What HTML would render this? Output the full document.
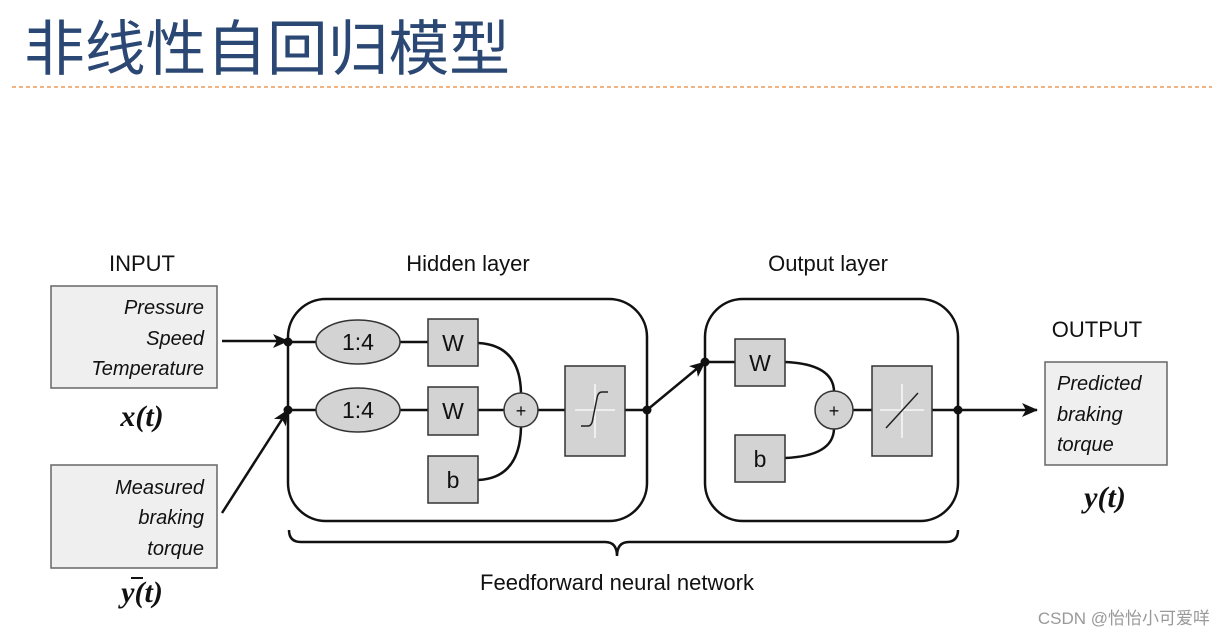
<!DOCTYPE html>
<html><head><meta charset="utf-8"><style>
html,body{margin:0;padding:0;background:#fff;width:1224px;height:637px;overflow:hidden}
svg{display:block}
text{font-family:"Liberation Sans","DejaVu Sans",sans-serif}
text.cjk{font-family:"Liberation Sans","Noto Sans CJK SC",sans-serif}
text.ser{font-family:"Liberation Serif","DejaVu Serif",serif}
</style></head><body>
<svg width="1224" height="637" viewBox="0 0 1224 637" xmlns="http://www.w3.org/2000/svg">
<defs><marker id="ar" markerWidth="16" markerHeight="14" refX="15" refY="7" orient="auto" markerUnits="userSpaceOnUse"><path d="M0,0 L16,7 L0,14 L4,7 z" fill="#111"/></marker></defs>
<text class="cjk" x="24" y="70" font-size="60" fill="#2b4773" textLength="486" lengthAdjust="spacingAndGlyphs">非线性自回归模型</text>
<line x1="12" y1="87" x2="1212" y2="87" stroke="#e8873a" stroke-width="1.3" stroke-dasharray="4,3"/>
<g font-size="22" fill="#111" text-anchor="middle">
<text x="142" y="271">INPUT</text>
<text x="468" y="271">Hidden layer</text>
<text x="828" y="271">Output layer</text>
<text x="1097" y="337">OUTPUT</text>
<text x="617" y="590">Feedforward neural network</text>
</g>
<g fill="#efefef" stroke="#666" stroke-width="1.5">
<rect x="51" y="286" width="166" height="102"/>
<rect x="51" y="465" width="166" height="103"/>
<rect x="1045" y="362" width="122" height="103"/>
</g>
<g font-size="20" font-style="italic" fill="#111" text-anchor="end">
<text x="204" y="314">Pressure</text><text x="204" y="345">Speed</text><text x="204" y="375">Temperature</text>
<text x="204" y="494">Measured</text><text x="204" y="524">braking</text><text x="204" y="555">torque</text>
</g>
<g font-size="20" font-style="italic" fill="#111">
<text x="1057" y="390">Predicted</text><text x="1057" y="421">braking</text><text x="1057" y="451">torque</text>
</g>
<g font-size="30" font-weight="bold" font-style="italic" fill="#111" text-anchor="middle">
<text class="ser" x="142" y="426">x(t)</text>
<text class="ser" x="142" y="602">y(t)</text>
<text class="ser" x="1105" y="507">y(t)</text>
</g>
<line x1="131" y1="578" x2="143" y2="578" stroke="#111" stroke-width="2"/>
<g fill="none" stroke="#111" stroke-width="2.5">
<rect x="288" y="299" width="359" height="222" rx="38"/>
<rect x="705" y="299" width="253" height="222" rx="38"/>
<line x1="222" y1="341" x2="288" y2="341" marker-end="url(#ar)"/>
<line x1="222" y1="513" x2="288" y2="410" marker-end="url(#ar)"/>
<line x1="288" y1="342" x2="428" y2="342"/>
<line x1="288" y1="410" x2="428" y2="410"/>
<line x1="478" y1="410" x2="565" y2="410"/>
<path d="M478,343 Q520,345 521,393"/>
<path d="M478,480 Q520,478 521,427"/>
<line x1="625" y1="410" x2="647" y2="410"/>
<line x1="647" y1="410" x2="705" y2="362" marker-end="url(#ar)"/>
<line x1="705" y1="362" x2="735" y2="362"/>
<path d="M785,362 Q833,364 834,391"/>
<path d="M785,458 Q833,456 834,429"/>
<line x1="853" y1="410" x2="872" y2="410"/>
<line x1="932" y1="410" x2="958" y2="410"/>
<line x1="958" y1="410" x2="1037" y2="410" marker-end="url(#ar)"/>
<path d="M289,530 Q289,542 301,542 L605,542 Q617,542 617,556 Q617,542 629,542 L946,542 Q958,542 958,530"/>
</g>
<g fill="#d3d3d3" stroke="#333" stroke-width="1.5">
<ellipse cx="358" cy="342" rx="42" ry="22"/>
<ellipse cx="358" cy="410" rx="42" ry="22"/>
<rect x="428" y="319" width="50" height="47"/>
<rect x="428" y="387" width="50" height="48"/>
<rect x="428" y="456" width="50" height="47"/>
<circle cx="521" cy="410" r="17"/>
<rect x="565" y="366" width="60" height="90"/>
<rect x="735" y="339" width="50" height="47"/>
<rect x="735" y="435" width="50" height="47"/>
<circle cx="834" cy="410" r="19"/>
<rect x="872" y="366" width="60" height="90"/>
</g>
<g stroke="#fff" stroke-width="1.3" fill="none">
<line x1="595" y1="384" x2="595" y2="438"/><line x1="575" y1="410" x2="615" y2="410"/>
<line x1="902" y1="384" x2="902" y2="438"/><line x1="880" y1="410" x2="924" y2="410"/>
</g>
<path d="M581,426 L588,426 Q592,426 593,418 L597,398 Q598,392 602,392 L608,392" stroke="#222" stroke-width="1.5" fill="none"/>
<line x1="886" y1="428" x2="918" y2="393" stroke="#222" stroke-width="1.5"/>
<g font-size="23" fill="#111" text-anchor="middle">
<text x="358" y="350">1:4</text><text x="358" y="418">1:4</text>
<text x="453" y="351">W</text><text x="453" y="419">W</text><text x="453" y="488">b</text>
<text x="760" y="371">W</text><text x="760" y="467">b</text>
<text x="521" y="417" font-size="18">+</text><text x="834" y="417" font-size="18">+</text>
</g>
<g fill="#111">
<circle cx="288" cy="342" r="4.5"/><circle cx="288" cy="410" r="4.5"/>
<circle cx="647" cy="410" r="4.5"/><circle cx="705" cy="362" r="4.5"/><circle cx="958" cy="410" r="4.5"/>
</g>
<text class="cjk" x="1210" y="624" font-size="17" fill="#999" text-anchor="end">CSDN @怡怡小可爱咩</text>
</svg>
</body></html>
